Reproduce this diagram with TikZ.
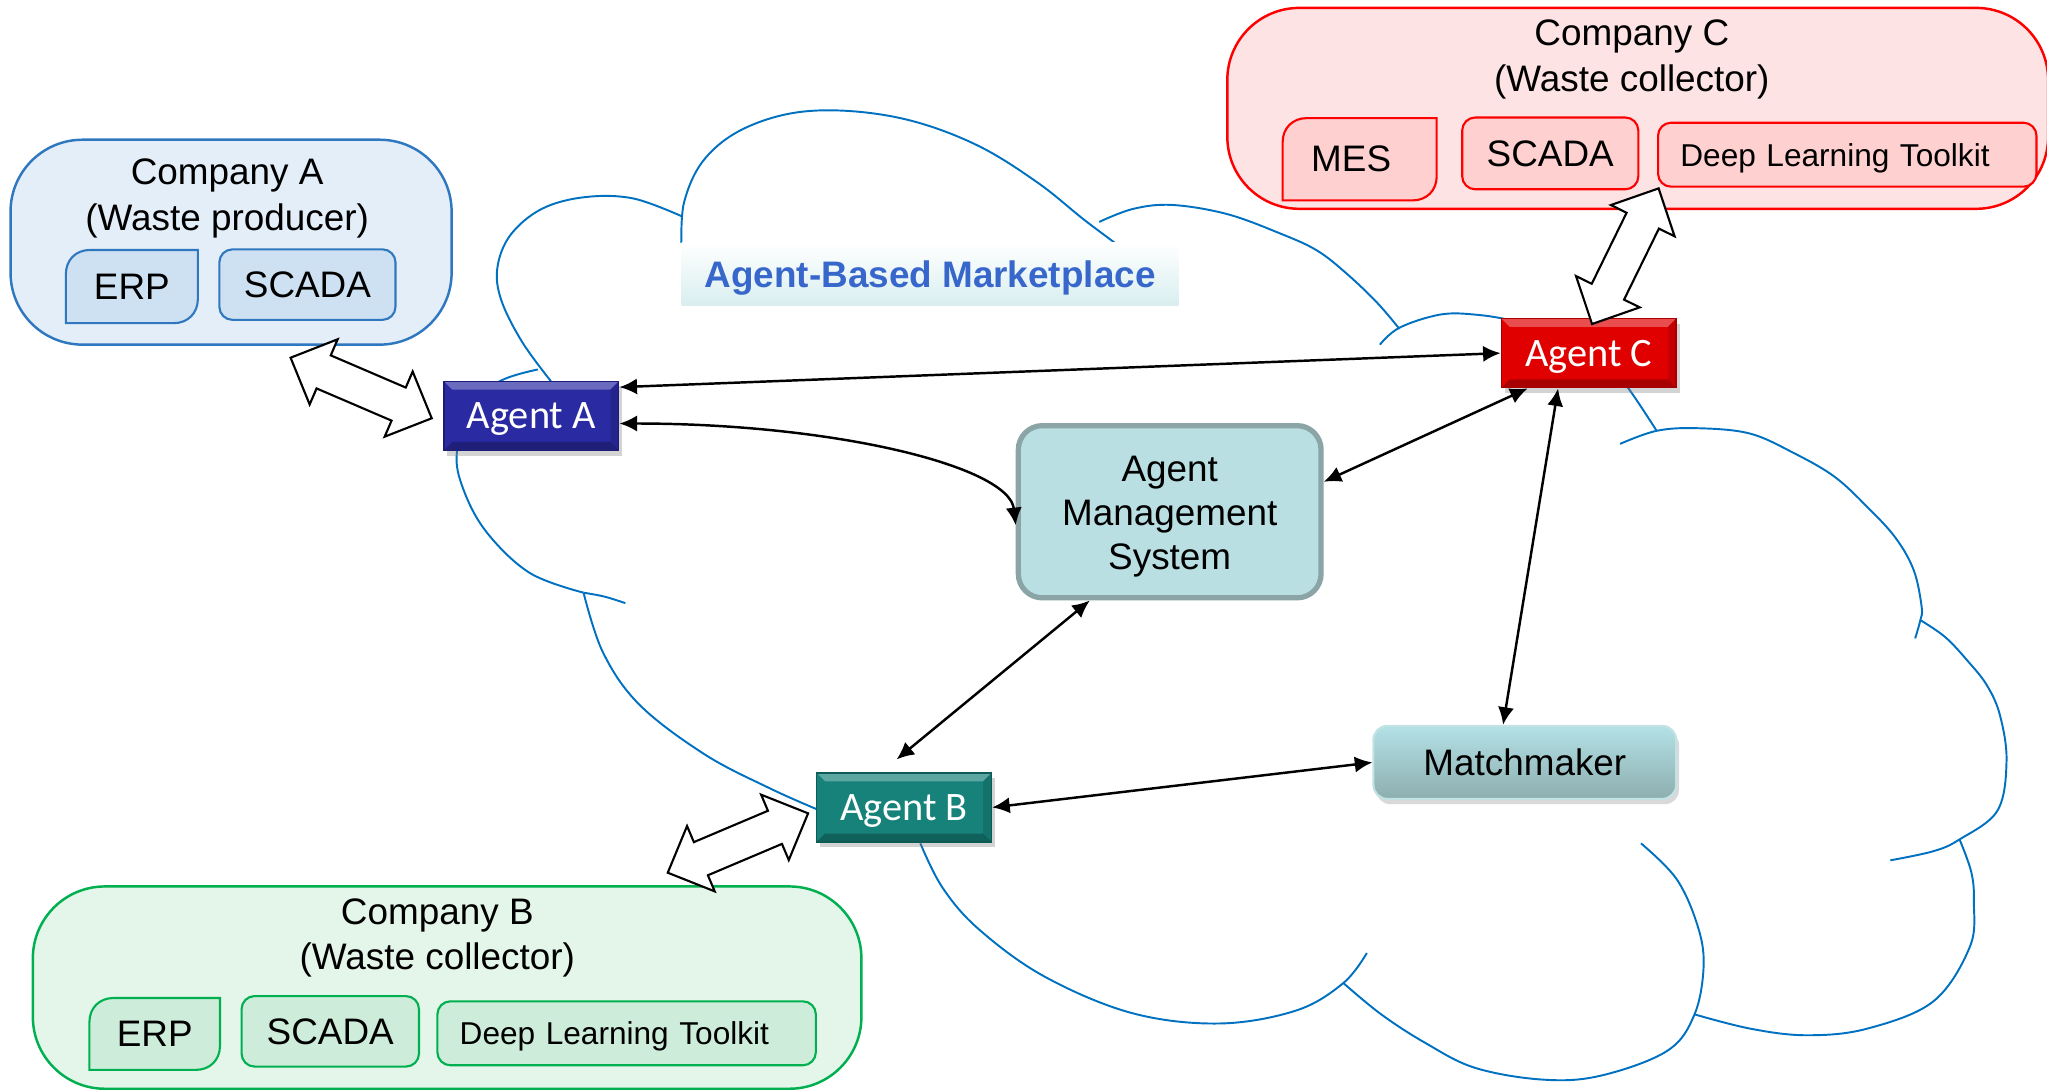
\documentclass[tikz,border=0pt]{standalone}
\usepackage{fontspec}
\setmainfont{Liberation Sans}
\newfontfamily\calib{Carlito}
\usetikzlibrary{calc,arrows.meta,shadows}
\pgfdeclarelayer{bglayer}
\pgfdeclarelayer{midlayer}
\pgfsetlayers{bglayer,midlayer,main}

\definecolor{cloudblue}{HTML}{0070C0}
\definecolor{coAfill}{HTML}{E3EEF8}
\definecolor{coAline}{HTML}{2F78C0}
\definecolor{coAin}{HTML}{CEE1F2}
\definecolor{coCfill}{HTML}{FDE3E3}
\definecolor{coCline}{HTML}{FF0000}
\definecolor{coCin}{HTML}{FFD0D0}
\definecolor{coBfill}{HTML}{E4F5EA}
\definecolor{coBline}{HTML}{00B050}
\definecolor{coBin}{HTML}{CDEDDA}
\definecolor{agAmid}{HTML}{2A2AA2}
\definecolor{agAbot}{HTML}{1C1C78}
\definecolor{agCmid}{HTML}{E00000}
\definecolor{agCbot}{HTML}{A80000}
\definecolor{agBmid}{HTML}{16827A}
\definecolor{agBbot}{HTML}{0E5A54}
\definecolor{amsfill}{HTML}{B9DFE3}
\definecolor{amsline}{HTML}{8BA5A7}
\definecolor{mmtop}{HTML}{B3E1E6}
\definecolor{mmbot}{HTML}{8DAEAF}
\definecolor{mmline}{HTML}{C2E3E6}
\definecolor{ttlbot}{HTML}{D9EEEF}
\definecolor{ttltext}{HTML}{3867CC}

\newcommand{\fbig}{\fontsize{10.5}{13}\selectfont}
\newcommand{\fams}{\fontsize{10.5}{12.6}\selectfont}
\newcommand{\fsmall}{\fontsize{9}{11}\selectfont}
\newcommand{\bah}{0.36cm}
\newcommand{\baw}{0.18cm}
\newcommand{\baW}{0.355cm}

\newcommand{\blockarrow}[2]{%
  \filldraw[blockarr] (#1)
  -- ($(#1)!\bah!(#2)!\baW!90:(#2)$)
  -- ($(#1)!\bah!(#2)!\baw!90:(#2)$)
  -- ($(#2)!\bah!(#1)!\baw!-90:(#1)$)
  -- ($(#2)!\bah!(#1)!\baW!-90:(#1)$)
  -- (#2)
  -- ($(#2)!\bah!(#1)!\baW!90:(#1)$)
  -- ($(#2)!\bah!(#1)!\baw!90:(#1)$)
  -- ($(#1)!\bah!(#2)!\baw!-90:(#2)$)
  -- ($(#1)!\bah!(#2)!\baW!-90:(#2)$)
  -- cycle;}

\newcommand{\diagshape}[3]{%
  \filldraw[fill=#2, draw=#3, line width=0.6pt]
  (#1.south west) -- ([yshift=-0.24cm]#1.north west)
  .. controls ([yshift=-0.1cm]#1.north west) and ([xshift=0.1cm]#1.north west) ..
  ([xshift=0.24cm]#1.north west) -- (#1.north east) -- ([yshift=0.24cm]#1.south east)
  .. controls ([yshift=0.1cm]#1.south east) and ([xshift=-0.1cm]#1.south east) ..
  ([xshift=-0.24cm]#1.south east) -- cycle;}

\tikzset{
  cloudline/.style={draw=cloudblue, line width=0.55pt},
  conn/.style={line width=0.7pt, >={Latex[length=5pt,width=4.6pt]}, <->},
  blockarr/.style={fill=white, draw=black, line width=0.6pt, line join=miter},
  cobox/.style={line width=0.7pt, rounded corners=0.72cm},
  cotext/.style={align=center, font=\fbig, inner sep=0pt},
  inbox/.style={line width=0.6pt, rounded corners=0.13cm, font=\fbig, inner sep=0pt},
  txtonly/.style={font=\fbig, inner sep=0pt},
  dltbox/.style={line width=0.6pt, rounded corners=0.13cm, font=\fsmall,
    text width=3.34cm, align=left, inner xsep=0.222cm, inner ysep=0pt,
    minimum width=3.786cm, minimum height=0.64cm, text depth=0pt},
  bevel/.style={path picture={
    \fill[white,opacity=0.3] (path picture bounding box.north west) -- (path picture bounding box.north east)
      -- ([xshift=-2.4pt,yshift=-2.4pt]path picture bounding box.north east)
      -- ([xshift=2.4pt,yshift=-2.4pt]path picture bounding box.north west) -- cycle;
    \fill[black,opacity=0.25] (path picture bounding box.south west) -- (path picture bounding box.south east)
      -- ([xshift=-2.4pt,yshift=2.4pt]path picture bounding box.south east)
      -- ([xshift=2.4pt,yshift=2.4pt]path picture bounding box.south west) -- cycle;
    \fill[black,opacity=0.12] (path picture bounding box.south east) -- (path picture bounding box.north east)
      -- ([xshift=-2.4pt,yshift=-2.4pt]path picture bounding box.north east)
      -- ([xshift=-2.4pt,yshift=2.4pt]path picture bounding box.south east) -- cycle;
  }},
  agent/.style={minimum width=1.749cm, minimum height=0.692cm, inner sep=0pt, text=white,
    font=\calib\fontsize{11.5}{13}\selectfont, line width=0.4pt, bevel, text depth=0pt,
    drop shadow={opacity=0.35, shadow xshift=1pt, shadow yshift=-1.5pt}},
}

\begin{document}
\begin{tikzpicture}[x=0.013055cm, y=-0.013055cm]
\useasboundingbox (0,0) rectangle (1568,836);

% ---------- cloud outline ----------
\draw[cloudline] plot[smooth,tension=0.6] coordinates {(412,283) (385,291) (362,308) (350,346) (355,375) (373,408) (406,439) (447,454)};
\draw[cloudline] plot[smooth,tension=0.6] coordinates {(447,454) (463,457) (479,462)};
\draw[cloudline] plot[smooth,tension=0.6] coordinates {(447,454) (462,500) (490,540) (540,578) (590,604) (626,620)};
\draw[cloudline] plot[smooth,tension=0.6] coordinates {(422,292) (400,262) (384,230) (381,205) (391,180) (415,160) (448,151) (485,152) (523,166)};
\draw[cloudline] plot[smooth,tension=0.6] coordinates {(522,186) (524,155) (538,124) (565,101) (605,87) (650,85) (700,93) (750,112) (795,140) (830,168) (854,186)};
\draw[cloudline] plot[smooth,tension=0.6] coordinates {(842,170) (868,160) (898,157) (940,164) (981,179) (1009,192) (1032,210) (1055,232) (1072,252)};
\draw[cloudline] plot[smooth,tension=0.6] coordinates {(1057,264) (1072,251) (1103,241) (1130,241) (1160,246) (1200,258) (1230,278) (1247,297) (1269,330)};
\draw[cloudline] plot[smooth,tension=0.6] coordinates {(1241,340) (1269,330) (1300,328) (1340,332) (1374,347) (1405,365) (1430,388) (1452,412) (1466,437) (1472,465) (1471,475) (1467,489)};
\draw[cloudline] plot[smooth,tension=0.6] coordinates {(1471,475) (1490,488) (1507,506) (1522,525) (1532,548) (1537,583) (1530,621) (1501,643) (1481,652) (1448,659)};
\draw[cloudline] plot[smooth,tension=0.6] coordinates {(1501,643) (1510,668) (1512,691) (1509,725) (1481,767) (1430,788) (1384,793) (1341,788) (1298,777)};
\draw[cloudline] plot[smooth,tension=0.6] coordinates {(1257,646) (1284,673) (1300,708) (1305,739) (1298,777) (1277,805) (1226,824) (1182,827) (1130,818) (1092,799) (1058,777) (1029,753)};
\draw[cloudline] plot[smooth,tension=0.6] coordinates {(705,646) (722,680) (750,712) (800,748) (867,776) (934,784) (993,774) (1029,753) (1047,730)};

% ---------- title ----------
\node[top color=white, bottom color=ttlbot, minimum width=4.974cm, minimum height=0.627cm,
  inner sep=0pt, text=ttltext, text depth=0pt, font=\bfseries\fontsize{10.5}{12}\selectfont] (ttl) at (712.5,210) {Agent-Based Marketplace};

% ---------- companies ----------
\begin{pgfonlayer}{bglayer}
\node[cobox, fill=coAfill, draw=coAline, minimum width=4.413cm, minimum height=2.050cm] (coA) at (177,185.5) {};
\node[cobox, fill=coCfill, draw=coCline, minimum width=8.212cm, minimum height=2.010cm] (coC) at (1254.5,83) {};
\node[cobox, fill=coBfill, draw=coBline, minimum width=8.290cm, minimum height=2.024cm] (coB) at (342.5,756.5) {};
\end{pgfonlayer}

\node[cotext] (coAt) at (174,152) {Company A\\(Waste producer)};
\node[cotext] (coCt) at (1250,45.5) {Company C\\(Waste collector)};
\node[cotext] (coBt) at (335,718.5) {Company B\\(Waste collector)};

% Company A
\node[txtonly, minimum width=1.306cm, minimum height=0.718cm] (erpA) at (101,219.5) {\raisebox{-1.3pt}{ERP}};
\node[inbox, fill=coAin, draw=coAline, minimum width=1.762cm, minimum height=0.705cm] (scadaA) at (235.5,218) {SCADA};
% Company C
\node[txtonly, minimum width=1.527cm, minimum height=0.809cm] (mesC) at (1041.5,122) {\raisebox{-0.4pt}{MES}\rule{0.17cm}{0pt}};
\node[inbox, fill=coCin, draw=coCline, minimum width=1.762cm, minimum height=0.718cm] (scadaC) at (1187.5,117.5) {SCADA};
\node[dltbox, fill=coCin, draw=coCline] (dltC) at (1415,118.5) {Deep Learning Toolkit};
% Company B
\node[txtonly, minimum width=1.292cm, minimum height=0.705cm] (erpB) at (118.5,792) {\raisebox{-1pt}{ERP}};
\node[inbox, fill=coBin, draw=coBline, minimum width=1.775cm, minimum height=0.705cm] (scadaB) at (253,790) {SCADA};
\node[dltbox, fill=coBin, draw=coBline] (dltB) at (480,791.5) {Deep Learning Toolkit};

\begin{pgfonlayer}{midlayer}
\diagshape{erpA}{coAin}{coAline}
\diagshape{mesC}{coCin}{coCline}
\diagshape{erpB}{coBin}{coBline}
\end{pgfonlayer}

% ---------- agents and services ----------
\node[agent, fill=agAmid, draw=agAbot] (agA) at (407,318.5) {Agent A};
\node[agent, fill=agCmid, draw=agCbot] (agC) at (1217,270.5) {Agent C};
\node[agent, fill=agBmid, draw=agBbot] (agB) at (692.5,618.5) {Agent B};

\node[draw=amsline, fill=amsfill, line width=1.5pt, rounded corners=0.24cm,
  minimum width=3.029cm, minimum height=1.723cm, font=\fams, inner sep=0pt] (ams) at (896,392)
  {\begin{tabular}{@{}c@{}}Agent\\Management\\System\end{tabular}\rule{0pt}{24.5pt}};

\node[top color=mmtop, bottom color=mmbot, draw=mmline, line width=0.6pt, rounded corners=0.14cm,
  minimum width=3.029cm, minimum height=0.731cm, font=\fbig, inner sep=0pt,
  drop shadow={opacity=0.3, shadow xshift=0.8pt, shadow yshift=-1.5pt}] (mm) at (1168,584) {Matchmaker};

% ---------- connectors ----------
\draw[conn] (agA.18) -- (agC.west);
\draw[conn] (agA.-5.5) .. controls +(165,0) and +(-5,-45) .. (ams.185);
\draw[conn] (ams.11) -- (agC.-150);
\draw[conn, shorten >=0.2cm] (ams.-132) -- (agB.123);
\draw[conn] (agC.-131) -- (mm.120);
\draw[conn] (agB.east) -- (mm.west);

% ---------- block arrows ----------
\coordinate (baA1) at (222.6,274);
\coordinate (baA2) at (330.7,320.4);
\coordinate (baB1) at (619,623);
\coordinate (baB2) at (511.5,668.5);
\coordinate (baC1) at (1219.5,248.2);
\coordinate (baC2) at (1270.5,144.3);
\blockarrow{baA1}{baA2}
\blockarrow{baB1}{baB2}
\blockarrow{baC1}{baC2}
\end{tikzpicture}
\end{document}
